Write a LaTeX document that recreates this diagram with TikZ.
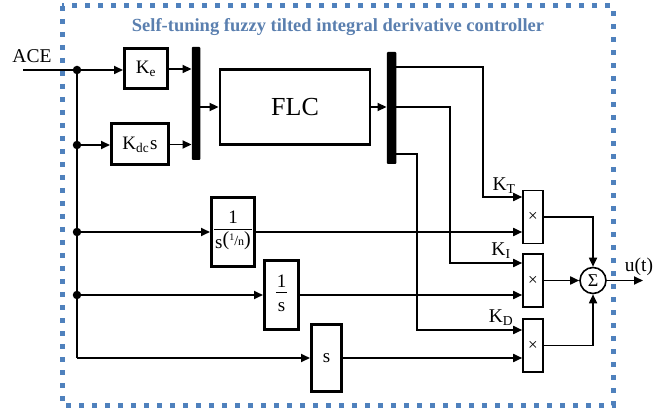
\documentclass[tikz,border=0pt]{standalone}
\usepackage{fontspec}
\setmainfont{Liberation Serif}
\usetikzlibrary{arrows.meta}
\definecolor{bordblue}{HTML}{4F81BD}
\definecolor{titleblue}{HTML}{5A7FAF}
\newcommand\myfrac[2]{{\setlength\arrayrulewidth{1.2pt}\begin{tabular}{@{\kern1pt}c@{\kern1pt}}#1\\[-2pt]\hline\rule{0pt}{19pt}#2\end{tabular}}}
\begin{document}
\begin{tikzpicture}[x=1pt,y=-1pt,
  blk/.style={draw,line width=3pt,inner sep=0pt,font=\fontsize{19}{22}\selectfont},
  mul/.style={draw,line width=1.6pt,minimum width=20pt,minimum height=53pt,inner sep=0pt,font=\fontsize{17}{17}\selectfont},
  bar/.style={fill=black,inner sep=0pt,rounded corners=1pt},
  conn/.style={line width=1.7pt},
  arr/.style={conn,-{Triangle[length=9pt,width=8pt]}},
  dot/.style={circle,fill=black,inner sep=0pt,minimum size=8.5pt},
  lab/.style={font=\fontsize{19.5}{22}\selectfont,inner sep=0pt}]
\useasboundingbox (0,0) rectangle (671,411);
\draw[bordblue,line width=5pt,dash pattern=on 5pt off 8pt] (62,6) rectangle (613,405);
\node[font=\bfseries\fontsize{18.5}{21}\selectfont,text=titleblue] (title) at (338,27) {Self-tuning fuzzy tilted integral derivative controller};
\node[lab] (ace) at (32,56) {ACE};
\coordinate (in) at (23,70);
\node[dot] (d1) at (77,70) {};
\node[dot] (d2) at (77,145) {};
\node[dot] (d3) at (77,232) {};
\node[dot] (d4) at (77,295) {};
\coordinate (corner) at (77,358);
\node[blk,minimum width=43pt,minimum height=40pt] (ke) at (146,69) {K\textsubscript{e}};
\node[blk,minimum width=57pt,minimum height=41pt] (kdc) at (140,144.5) {K\textsubscript{dc}\kern1pt s};
\node[bar,minimum width=8.5pt,minimum height=113pt] (bar1) at (196,103.5) {};
\node[draw,line width=2.8pt,minimum width=150pt,minimum height=75pt,font=\fontsize{26}{28}\selectfont] (flc) at (295,107) {FLC};
\node[bar,minimum width=9.5pt,minimum height=112pt] (bar2) at (391.5,108) {};
\node[blk,minimum width=43pt,minimum height=69pt] (fr) at (233,232) {\myfrac{1}{s\raisebox{3pt}{\fontsize{20}{20}\selectfont(\raisebox{5pt}{\fontsize{10}{10}\selectfont 1}{\fontsize{14}{14}\selectfont /}{\fontsize{12}{12}\selectfont n})}}};
\node[blk,minimum width=34pt,minimum height=69pt] (is) at (281.5,295) {\myfrac{1}{s}};
\node[blk,minimum width=30pt,minimum height=67pt] (sb) at (326.5,358) {s};
\node[mul] (m1) at (533,217) {×};
\node[mul] (m2) at (533,280.5) {×};
\node[mul] (m3) at (533,345.5) {×};
\node[draw,circle,line width=1.6pt,minimum size=26pt,inner sep=0pt,font=\fontsize{18}{18}\selectfont] (sum) at (593,280.5) {Σ};
\coordinate (out) at (643,280.5);
\node[lab] (ut) at (639,267) {u(t)};
\coordinate (oT) at (0,67);
\coordinate (oD) at (0,154);
\coordinate (bT) at (483,197);
\coordinate (bI) at (450,263);
\coordinate (bD) at (417,330);
\node[lab] (lT) at (504,186) {K\textsubscript{T}};
\node[lab] (lI) at (501,251) {K\textsubscript{I}};
\node[lab] (lD) at (501,318) {K\textsubscript{D}};
% connectors
\draw[conn] (in) -- (d1);
\draw[conn] (d1) -- (corner);
\draw[arr] (d1) -- (ke.west |- d1);
\draw[arr] (ke.east) -- (bar1.west |- ke.east);
\draw[arr] (d2) -- (kdc.west |- d2);
\draw[arr] (kdc.east) -- (bar1.west |- kdc.east);
\draw[arr] (bar1.east |- flc.west) -- (flc.west);
\draw[arr] (flc.east) -- (bar2.west |- flc.east);
\draw[arr] (d3) -- (fr.west);
\draw[arr] (d4) -- (is.west);
\draw[arr] (corner) -- (sb.west);
\draw[arr] (bar2.east |- oT) -| (bT) -- (m1.west |- bT);
\draw[arr] (bar2.east |- flc.east) -| (bI) -- (m2.west |- bI);
\draw[arr] (bar2.east |- oD) -| (bD) -- (m3.west |- bD);
\draw[arr] (fr.east) -- (m1.west |- fr.east);
\draw[arr] (is.east) -- (m2.west |- is.east);
\draw[arr] (sb.east) -- (m3.west |- sb.east);
\draw[arr] (m1.east) -| (sum.north);
\draw[arr] (m2.east) -- (sum.west);
\draw[arr] (m3.east) -| (sum.south);
\draw[arr] (sum.east) -- (out);
\end{tikzpicture}
\end{document}
